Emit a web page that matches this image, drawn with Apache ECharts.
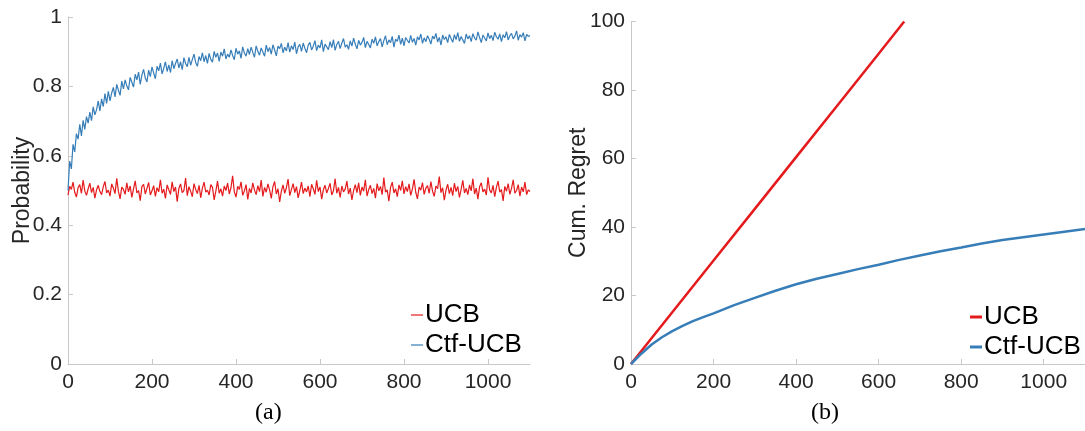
<!DOCTYPE html>
<html>
<head>
<meta charset="utf-8">
<script src="https://cdn.jsdelivr.net/npm/echarts@6/dist/echarts.min.js"></script>
<style>
html,body{margin:0;padding:0;background:#fff;}
#chart{width:1085px;height:431px;}
</style>
</head>
<body>
<div id="chart"></div>
<script>
// ---- Panel (a): probability, sampled every 4 rounds (0..1100) ----
const probStep = 4;
const probUCB = [
0.487,0.512,0.503,0.524,0.495,0.481,0.508,0.517,0.492,0.530,0.499,0.486,
0.505,0.521,0.494,0.509,0.478,0.502,0.515,0.497,0.488,0.511,0.526,0.493,
0.501,0.484,0.519,0.507,0.491,0.535,0.498,0.476,0.510,0.503,0.489,0.522,
0.496,0.513,0.480,0.505,0.528,0.493,0.500,0.471,0.512,0.518,0.490,0.506,
0.523,0.487,0.499,0.514,0.483,0.508,0.496,0.531,0.492,0.504,0.477,0.516,
0.502,0.489,0.525,0.497,0.510,0.468,0.506,0.519,0.494,0.500,0.536,0.485,
0.511,0.498,0.482,0.520,0.503,0.491,0.515,0.479,0.507,0.524,0.495,0.501,
0.487,0.517,0.509,0.473,0.498,0.527,0.492,0.505,0.484,0.513,0.500,0.521,
0.490,0.508,0.542,0.496,0.481,0.512,0.503,0.525,0.486,0.499,0.517,0.474,
0.506,0.493,0.522,0.501,0.488,0.514,0.497,0.530,0.483,0.509,0.495,0.519,
0.502,0.477,0.511,0.526,0.490,0.505,0.467,0.498,0.516,0.492,0.508,0.533,
0.485,0.503,0.520,0.494,0.511,0.479,0.500,0.524,0.491,0.507,0.496,0.513,
0.482,0.518,0.505,0.489,0.529,0.497,0.510,0.475,0.502,0.515,0.493,0.506,
0.521,0.487,0.499,0.534,0.492,0.509,0.480,0.513,0.496,0.504,0.527,0.490,
0.507,0.473,0.500,0.517,0.494,0.522,0.486,0.510,0.498,0.531,0.484,0.503,
0.515,0.491,0.506,0.478,0.520,0.499,0.512,0.488,0.537,0.495,0.502,0.469,
0.509,0.524,0.493,0.505,0.482,0.516,0.500,0.528,0.490,0.511,0.497,0.519,
0.486,0.504,0.532,0.495,0.476,0.510,0.501,0.523,0.489,0.507,0.514,0.492,
0.526,0.498,0.483,0.513,0.505,0.540,0.494,0.508,0.472,0.501,0.518,0.491,
0.509,0.485,0.521,0.497,0.512,0.480,0.503,0.529,0.493,0.506,0.488,0.516,
0.499,0.534,0.490,0.507,0.475,0.511,0.522,0.496,0.504,0.487,0.538,0.501,
0.493,0.515,0.482,0.509,0.527,0.495,0.503,0.470,0.512,0.498,0.520,0.489,
0.506,0.531,0.492,0.500,0.517,0.484,0.510,0.496,0.524,0.488,0.502,0.497
];
const probCtf = [
0.500,0.585,0.562,0.633,0.611,0.664,0.648,0.691,0.657,0.702,0.676,0.713,
0.694,0.726,0.701,0.741,0.718,0.733,0.758,0.729,0.764,0.742,0.779,0.751,
0.786,0.758,0.781,0.797,0.770,0.806,0.789,0.774,0.815,0.793,0.819,0.801,
0.790,0.826,0.812,0.798,0.835,0.819,0.841,0.806,0.833,0.849,0.824,0.813,
0.847,0.828,0.856,0.839,0.822,0.858,0.845,0.867,0.836,0.852,0.871,0.843,
0.862,0.840,0.874,0.851,0.866,0.879,0.853,0.871,0.848,0.883,0.866,0.857,
0.884,0.861,0.877,0.893,0.869,0.858,0.886,0.874,0.897,0.871,0.889,0.866,
0.895,0.878,0.870,0.901,0.884,0.896,0.872,0.899,0.887,0.908,0.879,0.893,
0.884,0.905,0.889,0.877,0.910,0.893,0.902,0.881,0.914,0.896,0.887,0.909,
0.892,0.913,0.898,0.884,0.917,0.901,0.890,0.911,0.906,0.887,0.919,0.900,
0.912,0.893,0.920,0.905,0.888,0.916,0.909,0.924,0.897,0.913,0.902,0.926,
0.899,0.917,0.906,0.928,0.894,0.914,0.921,0.901,0.925,0.910,0.897,0.919,
0.927,0.905,0.916,0.932,0.903,0.919,0.911,0.934,0.900,0.922,0.914,0.906,
0.929,0.912,0.935,0.904,0.921,0.930,0.909,0.925,0.938,0.913,0.920,0.907,
0.931,0.916,0.939,0.922,0.908,0.933,0.919,0.927,0.941,0.912,0.930,0.921,
0.911,0.936,0.924,0.943,0.917,0.929,0.938,0.914,0.932,0.946,0.920,0.934,
0.926,0.944,0.913,0.936,0.930,0.948,0.921,0.939,0.917,0.941,0.933,0.925,
0.947,0.927,0.938,0.919,0.943,0.934,0.951,0.924,0.940,0.929,0.946,0.936,
0.922,0.945,0.937,0.953,0.928,0.941,0.919,0.948,0.935,0.943,0.926,0.950,
0.938,0.927,0.949,0.935,0.955,0.930,0.944,0.939,0.924,0.951,0.937,0.946,
0.929,0.952,0.940,0.933,0.957,0.941,0.926,0.948,0.945,0.931,0.954,0.938,
0.947,0.932,0.956,0.943,0.936,0.951,0.929,0.949,0.940,0.958,0.934,0.946,
0.953,0.937,0.945,0.960,0.933,0.949,0.942,0.955,0.931,0.950,0.944,0.947
];

// ---- Panel (b): cumulative regret ----
const regretStepsUCB = [0, 100, 200, 300, 400, 500, 600, 662];
const regretUCB      = [0, 15.1, 30.2, 45.3, 60.4, 75.5, 90.6, 100];
const regretStepsCtf = [0,25,50,75,100,125,150,175,200,250,300,350,400,450,500,550,600,650,700,750,800,850,900,950,1000,1050,1100];
const regretCtf      = [0,3.0,5.7,7.8,9.6,11.1,12.5,13.7,14.8,17.2,19.3,21.4,23.3,24.9,26.3,27.7,29.0,30.4,31.7,32.9,34.0,35.2,36.2,37.0,37.8,38.6,39.4];

const seriesNames = ['UCB', 'Ctf-UCB'];
const panelLabels = ['(a)', '(b)'];
const axisNames = ['Probability', 'Cum. Regret'];

const RED = '#e41a1c', BLUE = '#377eb8';
const AXC = '#c8c8c8', TXT = '#262626';
const FONT = '"Liberation Sans", Arial, Helvetica, sans-serif';
const SERIF = '"Liberation Serif", "Times New Roman", serif';

const pair = (xs, ys) => ys.map((v, i) => [xs[i], v]);
const probX = probUCB.map((_, i) => i * probStep);

function xAx(gi) {
  return {
    type: 'value', gridIndex: gi, min: 0, max: 1100, interval: 200,
    axisLine: { show: true, lineStyle: { color: AXC, width: 1 } },
    axisTick: { show: true, inside: true, length: 5, lineStyle: { color: AXC } },
    axisLabel: { color: TXT, fontSize: 21, fontFamily: FONT, margin: 8, formatter: v => String(v) },
    splitLine: { show: false }
  };
}
function yAx(gi, max, interval, name, gap) {
  return {
    type: 'value', gridIndex: gi, min: 0, max: max, interval: interval,
    name: name, nameLocation: 'middle', nameRotate: 90, nameGap: gap, nameMoveOverlap: false,
    nameTextStyle: { color: TXT, fontSize: 23, fontFamily: FONT },
    axisLine: { show: true, lineStyle: { color: AXC, width: 1 } },
    axisTick: { show: true, inside: true, length: 5, lineStyle: { color: AXC } },
    axisLabel: { color: TXT, fontSize: 21, fontFamily: FONT, margin: 6, formatter: v => String(v) },
    splitLine: { show: false }
  };
}
function legend(left, top, h) {
  return {
    orient: 'vertical', left: left, top: top, data: seriesNames,
    icon: 'rect', itemWidth: 12, itemHeight: h, itemGap: 0, padding: 0,
    selectedMode: false,
    textStyle: { color: '#000', fontSize: 26, fontFamily: FONT, lineHeight: 30, padding: [0, 0, 0, -3] }
  };
}

const chart = echarts.init(document.getElementById('chart'), null, { renderer: 'canvas' });
chart.setOption({
  animation: false,
  backgroundColor: '#fff',
  grid: [
    { left: 68, top: 17, width: 462, height: 347 },
    { left: 631, top: 21.5, width: 458, height: 342.5 }
  ],
  xAxis: [xAx(0), xAx(1)],
  yAxis: [yAx(0, 1, 0.2, axisNames[0], 34), yAx(1, 100, 20, axisNames[1], 41)],
  legend: [legend(411, 300, 1.2), legend(970, 302, 3)],
  series: [
    { name: seriesNames[0], type: 'line', xAxisIndex: 0, yAxisIndex: 0, data: pair(probX, probUCB),
      showSymbol: false, lineStyle: { color: RED, width: 1.2 }, itemStyle: { color: RED } },
    { name: seriesNames[1], type: 'line', xAxisIndex: 0, yAxisIndex: 0, data: pair(probX, probCtf),
      showSymbol: false, lineStyle: { color: BLUE, width: 1.2 }, itemStyle: { color: BLUE } },
    { name: seriesNames[0], type: 'line', xAxisIndex: 1, yAxisIndex: 1, data: pair(regretStepsUCB, regretUCB),
      showSymbol: false, lineStyle: { color: RED, width: 2.5 }, itemStyle: { color: RED } },
    { name: seriesNames[1], type: 'line', xAxisIndex: 1, yAxisIndex: 1, data: pair(regretStepsCtf, regretCtf),
      showSymbol: false, lineStyle: { color: BLUE, width: 2.5 }, itemStyle: { color: BLUE } }
  ],
  graphic: [
    { type: 'text', left: 255, top: 401, style: { text: panelLabels[0], fontSize: 24, fontFamily: SERIF, fill: '#000' } },
    { type: 'text', left: 811, top: 401, style: { text: panelLabels[1], fontSize: 24, fontFamily: SERIF, fill: '#000' } }
  ]
});
</script>
</body>
</html>
